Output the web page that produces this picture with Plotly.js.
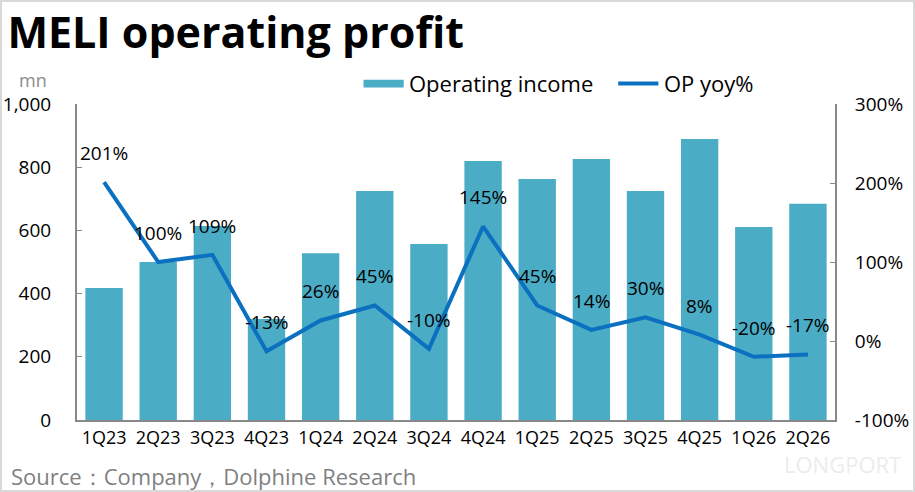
<!DOCTYPE html>
<html>
<head>
<meta charset="utf-8">
<script src="https://cdn.plot.ly/plotly-3.0.1.min.js"></script>
<style>
  html, body { margin: 0; padding: 0; background: #fff; }
  #chart { width: 915px; height: 492px; box-sizing: border-box; border: 2px solid #d9d9d9; }
</style>
</head>
<body>
<div id="chart"></div>
<script>
// quarters and values
const quarters = ['1Q23', '2Q23', '3Q23', '4Q23', '1Q24', '2Q24', '3Q24', '4Q24', '1Q25', '2Q25', '3Q25', '4Q25', '1Q26', '2Q26'];
const operatingIncome = [418, 500, 614, 320, 528, 725, 557, 820, 763, 826, 725, 889, 611, 684];
const opYoy = [201, 100, 109, -13, 26, 45, -10, 145, 45, 14, 30, 8, -20, -17];
const leftTicks = [0, 200, 400, 600, 800, 1000];
const rightTicks = [-100, 0, 100, 200, 300];

const barColor = '#4bacc6';
const lineColor = '#0b70c0';
const font = 'Open Sans, Noto Sans, sans-serif';

const bars = {
    x: quarters, y: operatingIncome, type: 'bar', name: 'Operating income',
    marker: { color: barColor }, hoverinfo: 'x+y'
};
const line = {
    x: quarters, y: opYoy, type: 'scatter', mode: 'lines', name: 'OP yoy%', yaxis: 'y2',
    line: { color: lineColor, width: 4 }
};

// % labels above each point of the line
const labels = quarters.map((q, i) => ({
    x: q, y: opYoy[i], xref: 'x', yref: 'y2', yshift: 29,
    text: opYoy[i] + '%', showarrow: false,
    font: { size: 19, color: '#000', family: font }
}));

// hand-made legend, so the bar swatch can be a wide strip like the original
const legendShapes = [
    { type: 'rect', xref: 'paper', yref: 'paper', x0: 0.378, x1: 0.431, y0: 1.052, y1: 1.077,
      fillcolor: barColor, line: { width: 0 } },
    { type: 'line', xref: 'paper', yref: 'paper', x0: 0.714, x1: 0.767, y0: 1.065, y1: 1.065,
      line: { color: lineColor, width: 4 } }
];
const legendTexts = [
    { text: 'Operating income', xref: 'paper', yref: 'paper', x: 0.435, y: 1.065, xanchor: 'left', yanchor: 'middle',
      showarrow: false, font: { size: 22, family: font, color: '#000' } },
    { text: 'OP yoy%', xref: 'paper', yref: 'paper', x: 0.772, y: 1.065, xanchor: 'left', yanchor: 'middle',
      showarrow: false, font: { size: 22, family: font, color: '#000' } }
];

const layout = {
    width: 911, height: 488,
    paper_bgcolor: '#fff', plot_bgcolor: 'rgba(0,0,0,0)',
    font: { family: font, color: '#000', size: 18 },
    margin: { l: 75, r: 78, t: 102, b: 70 },
    showlegend: false,
    title: {
        text: '<b>MELI operating profit</b>', x: 0.006, xanchor: 'left', y: 0.968, yanchor: 'top',
        font: { size: 43, family: font, color: '#000' }
    },
    bargap: 0.31,
    xaxis: {
        type: 'category', showline: true, linecolor: '#898989', linewidth: 2,
        ticks: '', tickfont: { size: 18 }, fixedrange: true
    },
    yaxis: {
        range: [0, 1000], tickvals: leftTicks, tickformat: ',d',
        showgrid: false, zeroline: false, showline: true, linecolor: '#898989', linewidth: 2,
        ticks: 'inside', ticklen: 5, tickcolor: '#898989', tickfont: { size: 19 },
        ticklabelstandoff: 20
    },
    yaxis2: {
        overlaying: 'y', side: 'right', range: [-100, 300], tickvals: rightTicks,
        ticktext: rightTicks.map(v => v + '%'), showgrid: false, zeroline: false,
        showline: true, linecolor: '#898989', linewidth: 2,
        ticks: 'inside', ticklen: 5, tickcolor: '#898989', tickfont: { size: 19 },
        ticklabelstandoff: 14
    },
    shapes: legendShapes,
    annotations: labels.concat(legendTexts, [
        { text: 'mn', xref: 'paper', yref: 'paper', x: -0.079, y: 1.075, xanchor: 'left', yanchor: 'middle',
          showarrow: false, font: { size: 18, color: '#8c8c8c', family: font } },
        { text: 'Source：Company，Dolphine Research', xref: 'paper', yref: 'paper',
          x: -0.09, y: -0.178, xanchor: 'left', yanchor: 'middle', showarrow: false,
          font: { size: 22, color: '#7f7f7f', family: font } },
        { text: 'LONGPORT', xref: 'paper', yref: 'paper', x: 1.09, y: -0.14, xanchor: 'right', yanchor: 'middle',
          showarrow: false, font: { size: 22, color: '#ececec', family: font } }
    ])
};

Plotly.newPlot('chart', [bars, line], layout, { displayModeBar: false, staticPlot: true });
</script>
</body>
</html>
